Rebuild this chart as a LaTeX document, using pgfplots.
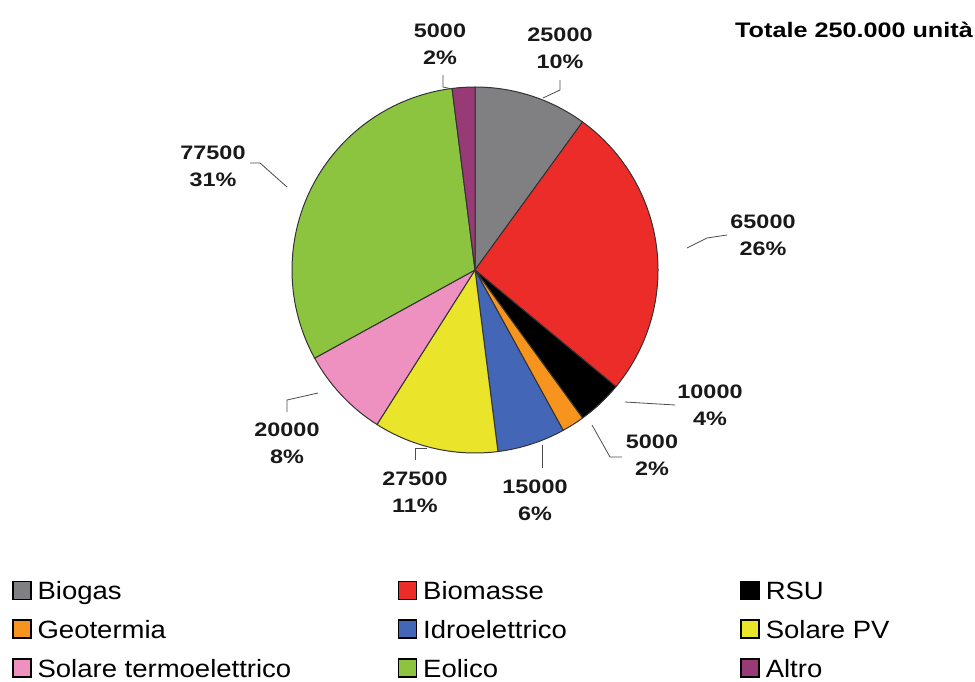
\documentclass[border=0pt]{standalone}
\usepackage{pgfplots}
\pgfplotsset{compat=1.18}
\usepackage{pgfplotstable}
\usepackage{fontspec}
\setmainfont{Liberation Sans}
\newfontfamily\lblfont{Liberation Sans}[FakeStretch=1.2]
\newfontfamily\legfont{Liberation Sans}[FakeStretch=1.1]
\definecolor{cBiogas}{RGB}{128,128,131}
\definecolor{cBiomasse}{RGB}{236,44,40}
\definecolor{cRSU}{RGB}{0,0,0}
\definecolor{cGeo}{RGB}{247,148,30}
\definecolor{cIdro}{RGB}{68,102,182}
\definecolor{cPV}{RGB}{234,228,42}
\definecolor{cTermo}{RGB}{238,145,192}
\definecolor{cEolico}{RGB}{140,196,64}
\definecolor{cAltro}{RGB}{152,58,118}
\pgfplotstableread{
name value col
Biogas 25000 cBiogas
Biomasse 65000 cBiomasse
RSU 10000 cRSU
Geotermia 5000 cGeo
Idroelettrico 15000 cIdro
SolarePV 27500 cPV
SolareTermo 20000 cTermo
Eolico 77500 cEolico
Altro 5000 cAltro
}\pietable
\begin{document}
\begin{tikzpicture}
\useasboundingbox (0,0) rectangle (975pt,682pt);
\begin{axis}[at={(0,0)}, anchor=south west, scale only axis,
  width=975pt, height=682pt, xmin=0, xmax=975, ymin=0, ymax=682,
  y dir=reverse, hide axis, clip=false,
  legend columns=3,
  legend image code/.code={\draw[#1, line width=1.6pt] (0pt,0pt) rectangle (18pt,18pt);},
  legend style={at={(axis cs:12,677)}, anchor=base west, draw=none, fill=none,
    inner sep=0pt, outer sep=0pt, column sep=0pt, row sep=15pt,
    font=\legfont\fontsize{25}{30}\selectfont,
    nodes={inner sep=0pt, text height=18pt, text depth=5pt, anchor=base}},
]
% total
\def\tot{0}
\pgfplotstablegetrowsof{\pietable}
\pgfmathtruncatemacro\nrows{\pgfplotsretval-1}
\pgfplotsforeachungrouped \i in {0,...,\nrows}{%
  \pgfplotstablegetelem{\i}{value}\of\pietable
  \edef\tot{\fpeval{\tot+\pgfplotsretval}}%
}
\def\cum{0}
\pgfplotsforeachungrouped \i in {0,...,\nrows}{%
  \pgfplotstablegetelem{\i}{value}\of\pietable \let\val\pgfplotsretval
  \pgfplotstablegetelem{\i}{col}\of\pietable \let\col\pgfplotsretval
  \edef\aS{\fpeval{90-360*\cum/\tot}}%
  \edef\aE{\fpeval{90-360*(\cum+\val)/\tot}}%
  \edef\doit{\noexpand\filldraw[fill=\col, draw=black!80, line width=1pt, line join=round]
     (axis cs:475,270) -- ++(\aS:183pt) arc[start angle=\aS, end angle=\aE, radius=183pt] -- cycle;}%
  \doit
  \edef\cum{\fpeval{\cum+\val}}%
}
% leader lines
\begin{scope}[draw=black!70, line width=0.8pt]
\draw (axis cs:443,75) -- (axis cs:443,87) -- (axis cs:452,89);
\draw (axis cs:560,80) -- (axis cs:560,90) -- (axis cs:543,98);
\draw (axis cs:687,248) -- (axis cs:707,238) -- (axis cs:727,235);
\draw (axis cs:625,402) -- (axis cs:675,405);
\draw (axis cs:592,425) -- (axis cs:610,457) -- (axis cs:622,457);
\draw (axis cs:542,445) -- (axis cs:542,468);
\draw (axis cs:415,460) -- (axis cs:415,448) -- (axis cs:427,448);
\draw (axis cs:287,412) -- (axis cs:287,400) -- (axis cs:318,393);
\draw (axis cs:250,163) -- (axis cs:260,163) -- (axis cs:287,187);
\end{scope}
% labels
\begin{scope}[every node/.style={align=center, inner sep=0pt, font=\lblfont\bfseries\fontsize{19.5}{27}\selectfont, text=black!90}]
\node at (axis cs:440,44) {5000\\2\%};
\node at (axis cs:560,48) {25000\\10\%};
\node at (axis cs:763,235) {65000\\26\%};
\node at (axis cs:710,405) {10000\\4\%};
\node at (axis cs:652,455) {5000\\2\%};
\node at (axis cs:535,500) {15000\\6\%};
\node at (axis cs:415,492) {27500\\11\%};
\node at (axis cs:287,443) {20000\\8\%};
\node at (axis cs:213,166) {77500\\31\%};
\end{scope}
\node[anchor=base east, inner sep=0pt, font=\lblfont\bfseries\fontsize{21}{25}\selectfont] at (axis cs:973,38) {Totale 250.000 unità};
% legend
\addlegendimage{fill=cBiogas, draw=black}
\addlegendentry{\makebox[366pt][l]{\hspace{6pt}Biogas}}
\addlegendimage{fill=cBiomasse, draw=black}
\addlegendentry{\makebox[323pt][l]{\hspace{6pt}Biomasse}}
\addlegendimage{fill=cRSU, draw=black}
\addlegendentry{\makebox[200pt][l]{\hspace{6pt}RSU}}
\addlegendimage{fill=cGeo, draw=black}
\addlegendentry{\makebox[366pt][l]{\hspace{6pt}Geotermia}}
\addlegendimage{fill=cIdro, draw=black}
\addlegendentry{\makebox[323pt][l]{\hspace{6pt}Idroelettrico}}
\addlegendimage{fill=cPV, draw=black}
\addlegendentry{\makebox[200pt][l]{\hspace{6pt}Solare PV}}
\addlegendimage{fill=cTermo, draw=black}
\addlegendentry{\makebox[366pt][l]{\hspace{6pt}Solare termoelettrico}}
\addlegendimage{fill=cEolico, draw=black}
\addlegendentry{\makebox[323pt][l]{\hspace{6pt}Eolico}}
\addlegendimage{fill=cAltro, draw=black}
\addlegendentry{\makebox[200pt][l]{\hspace{6pt}Altro}}
\end{axis}
\end{tikzpicture}
\end{document}
